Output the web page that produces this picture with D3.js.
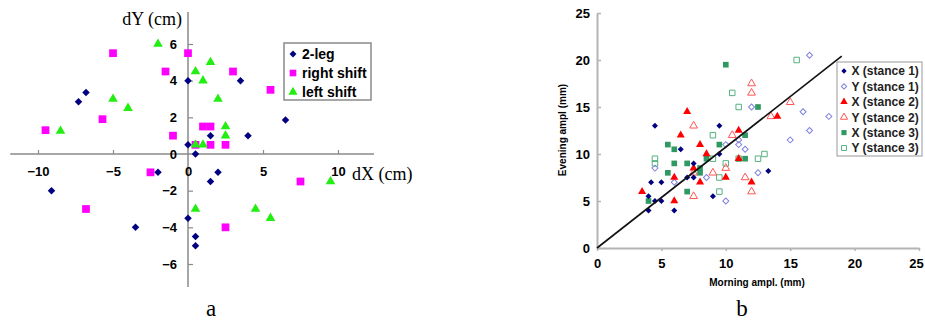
<!DOCTYPE html>
<html>
<head>
<meta charset="utf-8">
<script src="https://cdn.jsdelivr.net/npm/d3@7"></script>
<style>
  html, body { margin: 0; padding: 0; background: #fff; }
  svg { display: block; }
  .tick text { font-family: "Liberation Sans", Arial, sans-serif; font-weight: bold; fill: #000; }
</style>
</head>
<body>
<svg id="chart" width="925" height="322"></svg>
<script>
// ---------- Panel a data (dX, dY in cm) ----------
const aTwoLeg = [[-6.8,3.35],[-7.3,2.85],[0,4],[3.5,4],[6.5,1.85],[1.5,1],[4,1],[0,0.5],[0.5,0],
  [-2,-1],[-9.1,-2],[-3.5,-4],[0,-3.5],[0.5,-4.5],[0.5,-5],[2,-1],[1.5,-1.5]];
const aRightShift = [[-5,5.5],[-9.5,1.3],[-5.7,1.9],[-1.5,4.5],[-1,1],[0,5.5],[3,4.5],[5.5,3.5],
  [1,1.5],[1.5,1.5],[0.5,0.5],[1.5,0.5],[2.5,0.5],[-2.5,-1],[-6.8,-3],[7.5,-1.5],[2.5,-4]];
const aLeftShift = [[-2,6],[-8.5,1.25],[-5,3],[-4,2.5],[0.5,4.5],[1.5,5],[1,4],[2,3],[2.5,1.5],
  [2.5,1],[0.5,0.5],[1,0.5],[0.5,-3],[4.5,-3],[5.5,-3.5],[9.5,-1.5]];
const aXTicks = [-10,-5,0,5,10];
const aYTicks = [-6,-4,-2,0,2,4,6];
const aLegend = ["2-leg","right shift","left shift"];

// ---------- Panel b data (mm) ----------
const bX1 = [[4.5,13],[9.5,13],[6.5,10.5],[9.5,10],[7.5,9],[4.2,7],[5,7],[7,7.5],[7.5,7.5],[9,5.5],
  [4,5.5],[4.5,5],[5,5],[4,4],[6,4],[13.3,8.2]];
const bY1 = [[16.5,20.5],[12,15],[16,14.5],[18,14],[16.5,12.5],[15,11.5],[11,11.5],[11,11],[10,11],
  [11.5,10.5],[4.5,8.5],[6,7],[8.5,7.5],[12.5,8],[10,5]];
const bX2 = [[7,14.5],[6.5,12],[11,12.5],[8,11],[8.5,10],[11,9.5],[14,14],[12,7],[10,7.5],[8,7],
  [7.5,8.5],[6,7.5],[3.5,6],[6,5]];
const bY2 = [[7.5,13],[10.5,12],[12,17.5],[12,16.5],[15,15.5],[13.5,14],[10,8.5],[11.5,7.5],[12,6],
  [9,8],[7.5,5.5],[7.5,8]];
const bX3 = [[10,19.5],[5.5,11],[6,10.5],[9.5,11],[8.5,9.5],[12.5,15],[11.5,12],[11.5,9.5],[6,9],
  [7,9],[8,8],[8,8.5],[5.5,8],[7,6],[4,5]];
const bY3 = [[10.5,16.5],[11,15],[9,12],[4.5,9.5],[4.5,9],[15.5,20],[13,10],[12.5,9.5],[10,9],
  [11,9.5],[9.5,7.5],[9.5,6],[9,9.5]];
const bTicks = [0,5,10,15,20,25];
const bFit = [[0,0],[19,20.4]];
const bLegend = ["X (stance 1)","Y (stance 1)","X (stance 2)","Y (stance 2)","X (stance 3)","Y (stance 3)"];

const svg = d3.select("#chart");
const sans = '"Liberation Sans", Arial, sans-serif';
const serif = '"Liberation Serif", "Times New Roman", serif';

function marker(g, type, size, fill, stroke, sw) {
  let sym;
  if (type === "diamond") sym = d3.symbol(d3.symbolSquare, size);
  else if (type === "square") sym = d3.symbol(d3.symbolSquare, size);
  else sym = d3.symbol(d3.symbolTriangle, size);
  return function(sel) {
    sel.attr("d", sym)
      .attr("fill", fill).attr("stroke", stroke).attr("stroke-width", sw);
  };
}

// =============== Panel a ===============
const xa = d3.scaleLinear().domain([-10, 10]).range([38, 338]);
const ya = d3.scaleLinear().domain([-6, 6]).range([264, 44]);
const ga = svg.append("g");
const axisColA = "#8a8a8a";

// axis lines
ga.append("line").attr("x1", xa(-11.85)).attr("x2", xa(12.4)).attr("y1", ya(0)).attr("y2", ya(0))
  .attr("stroke", axisColA).attr("stroke-width", 1.5);
ga.append("line").attr("x1", xa(0)).attr("x2", xa(0)).attr("y1", ya(7.75)).attr("y2", ya(-7.25))
  .attr("stroke", axisColA).attr("stroke-width", 1.5);

const axA_x = ga.append("g").attr("transform", `translate(0,${ya(0)})`)
  .call(d3.axisBottom(xa).tickValues(aXTicks).tickSizeInner(-4).tickSizeOuter(0).tickPadding(13).tickFormat(d3.format("d")));
axA_x.select(".domain").remove();
axA_x.selectAll(".tick line").attr("stroke", axisColA).attr("stroke-width", 1.2);
axA_x.selectAll(".tick text").style("font-size", "13px");
axA_x.selectAll(".tick").filter(d => d === 0).select("line").remove();

const axA_y = ga.append("g").attr("transform", `translate(${xa(0)},0)`)
  .call(d3.axisLeft(ya).tickValues(aYTicks).tickSizeInner(-5).tickSizeOuter(0).tickPadding(11).tickFormat(d3.format("d")));
axA_y.select(".domain").remove();
axA_y.selectAll(".tick line").attr("stroke", axisColA).attr("stroke-width", 1.2);
axA_y.selectAll(".tick text").style("font-size", "13px");
axA_y.selectAll(".tick").filter(d => d === 0).select("line").remove();

// titles
ga.append("text").attr("x", 182).attr("y", 25).attr("text-anchor", "end")
  .attr("font-family", serif).attr("font-size", 18).text("dY (cm)");
ga.append("text").attr("x", 352).attr("y", 180)
  .attr("font-family", serif).attr("font-size", 18).text("dX (cm)");
ga.append("text").attr("x", 211).attr("y", 316).attr("text-anchor", "middle")
  .attr("font-family", serif).attr("font-size", 23).text("a");

const aNavy = "#000080", aMag = "#ff00ff", aGreen = "#22ee11";
ga.append("g").selectAll("path").data(aRightShift).join("path")
  .attr("transform", d => `translate(${xa(d[0])},${ya(d[1])})`)
  .call(marker(ga, "square", 60, aMag, "none", 0));
ga.append("g").selectAll("path").data(aLeftShift).join("path")
  .attr("transform", d => `translate(${xa(d[0])},${ya(d[1])})`)
  .call(marker(ga, "triangle", 40, aGreen, "none", 0));
ga.append("g").selectAll("path").data(aTwoLeg).join("path")
  .attr("transform", d => `translate(${xa(d[0])},${ya(d[1])}) rotate(45)`)
  .call(marker(ga, "diamond", 28, aNavy, "none", 0));

// legend a
const lgA = ga.append("g");
lgA.append("rect").attr("x", 284).attr("y", 43).attr("width", 87).attr("height", 57)
  .attr("fill", "#fff").attr("stroke", "#8a8a8a").attr("stroke-width", 1.5);
const aLegSpec = [
  {t: "diamond", s: 24, c: aNavy, rot: 45},
  {t: "square", s: 44, c: aMag, rot: 0},
  {t: "triangle", s: 36, c: aGreen, rot: 0}
];
aLegend.forEach((name, i) => {
  const yy = 54 + i * 19;
  const sp = aLegSpec[i];
  lgA.append("path").attr("transform", `translate(293,${yy}) rotate(${sp.rot})`)
    .call(marker(lgA, sp.t, sp.s, sp.c, "none", 0));
  lgA.append("text").attr("x", 302).attr("y", yy + 5).attr("font-family", sans)
    .attr("font-weight", "bold").attr("font-size", 14).text(name);
});

// =============== Panel b ===============
const xb = d3.scaleLinear().domain([0, 25]).range([597, 919]);
const yb = d3.scaleLinear().domain([0, 25]).range([248, 13]);
const gb = svg.append("g");
const axisColB = "#b4b4b4";

const axB_x = gb.append("g").attr("transform", `translate(0,${yb(0)})`)
  .call(d3.axisBottom(xb).tickValues(bTicks).tickSizeInner(3).tickSizeOuter(0).tickPadding(8));
axB_x.select(".domain").attr("stroke", axisColB).attr("stroke-width", 2);
axB_x.selectAll(".tick line").attr("stroke", axisColB).attr("stroke-width", 1.5);
axB_x.selectAll(".tick text").style("font-size", "13px");
// keep the last label inside the page
axB_x.selectAll(".tick").filter(d => d === 25).select("text").attr("dx", -3);

const axB_y = gb.append("g").attr("transform", `translate(${xb(0)},0)`)
  .call(d3.axisLeft(yb).tickValues(bTicks).tickSizeInner(-4).tickSizeOuter(0).tickPadding(7));
axB_y.select(".domain").attr("stroke", axisColB).attr("stroke-width", 2);
axB_y.selectAll(".tick line").attr("stroke", axisColB).attr("stroke-width", 1.5);
axB_y.selectAll(".tick text").style("font-size", "13px");

gb.append("text").attr("x", 757).attr("y", 286).attr("text-anchor", "middle")
  .attr("font-family", sans).attr("font-weight", "bold").attr("font-size", 10).text("Morning ampl. (mm)");
gb.append("text").attr("transform", "translate(566,130) rotate(-90)").attr("text-anchor", "middle")
  .attr("font-family", sans).attr("font-weight", "bold").attr("font-size", 10).text("Evening ampl (mm)");
gb.append("text").attr("x", 742).attr("y", 316).attr("text-anchor", "middle")
  .attr("font-family", serif).attr("font-size", 23).text("b");

const cX1 = "#000080", cY1 = "#8080dd", cX2 = "#ff0000", cY2 = "#ff5555", cX3 = "#2e9960", cY3 = "#55b080";
const bSpec = [
  {d: bY3, t: "square", s: 30, f: "none", st: cY3, sw: 1, rot: 0},
  {d: bY1, t: "diamond", s: 18, f: "none", st: cY1, sw: 1, rot: 45},
  {d: bY2, t: "triangle", s: 26, f: "none", st: cY2, sw: 1, rot: 0},
  {d: bX3, t: "square", s: 32, f: cX3, st: "none", sw: 0, rot: 0},
  {d: bX2, t: "triangle", s: 28, f: cX2, st: "none", sw: 0, rot: 0},
  {d: bX1, t: "diamond", s: 18, f: cX1, st: "none", sw: 0, rot: 45}
];
bSpec.forEach(sp => {
  gb.append("g").selectAll("path").data(sp.d).join("path")
    .attr("transform", d => `translate(${xb(d[0])},${yb(d[1])}) rotate(${sp.rot})`)
    .call(marker(gb, sp.t, sp.s, sp.f, sp.st, sp.sw));
});

// fit line
gb.append("path").datum(bFit)
  .attr("d", d3.line().x(d => xb(d[0])).y(d => yb(d[1])))
  .attr("stroke", "#111").attr("stroke-width", 1.6).attr("fill", "none");

// legend b
const lgB = gb.append("g");
lgB.append("rect").attr("x", 837).attr("y", 62).attr("width", 85).attr("height", 94)
  .attr("fill", "#fff").attr("stroke", "#999").attr("stroke-width", 1);
const bLegSpec = [
  {t: "diamond", s: 14, f: cX1, st: "none", sw: 0, rot: 45},
  {t: "diamond", s: 14, f: "none", st: cY1, sw: 1, rot: 45},
  {t: "triangle", s: 24, f: cX2, st: "none", sw: 0, rot: 0},
  {t: "triangle", s: 22, f: "none", st: cY2, sw: 1, rot: 0},
  {t: "square", s: 26, f: cX3, st: "none", sw: 0, rot: 0},
  {t: "square", s: 24, f: "none", st: cY3, sw: 1, rot: 0}
];
bLegend.forEach((name, i) => {
  const yy = 71 + i * 15.4;
  const sp = bLegSpec[i];
  lgB.append("path").attr("transform", `translate(844,${yy}) rotate(${sp.rot})`)
    .call(marker(lgB, sp.t, sp.s, sp.f, sp.st, sp.sw));
  lgB.append("text").attr("x", 851.5).attr("y", yy + 4.3).attr("font-family", sans)
    .attr("font-weight", "bold").attr("font-size", 12).attr("fill", "#222").text(name);
});
</script>
</body>
</html>
